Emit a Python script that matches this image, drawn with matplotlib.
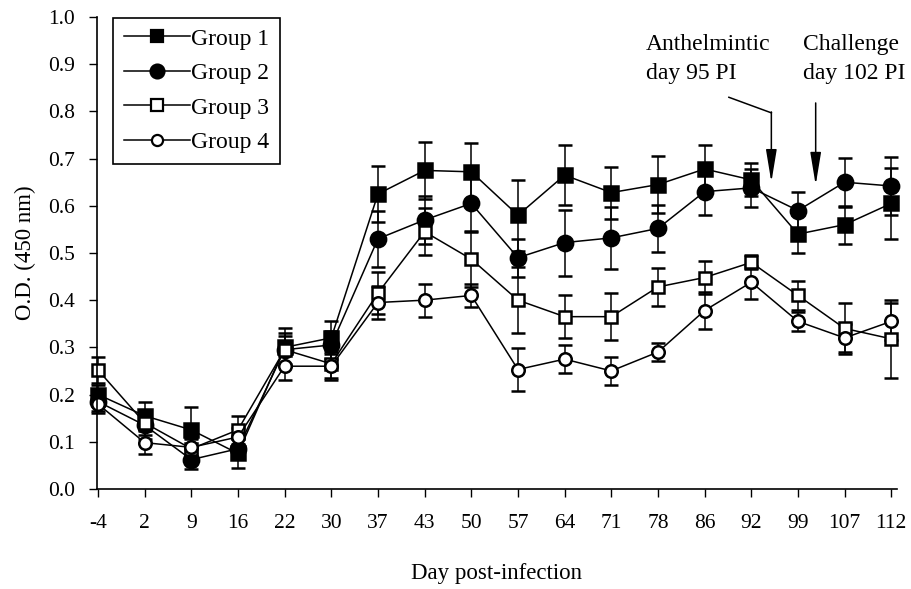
import matplotlib
matplotlib.use('Agg')
import matplotlib.pyplot as plt
from matplotlib.lines import Line2D
import numpy as np

plt.rcParams['font.family'] = ['Liberation Serif', 'DejaVu Serif']

days = ['-4', '2', '9', '16', '22', '30', '37', '43', '50', '57', '64', '71',
        '78', '86', '92', '99', '107', '112']

g1 = [0.200, 0.155, 0.125, 0.075, 0.300, 0.320, 0.625, 0.675, 0.672, 0.580,
      0.665, 0.628, 0.645, 0.678, 0.655, 0.540, 0.560, 0.605]
g1_err = [0.020, 0.030, 0.048, 0.030, 0.040, 0.035, 0.060, 0.060, 0.062, 0.075,
          0.063, 0.055, 0.060, 0.050, 0.035, 0.040, 0.040, 0.075]

g2 = [0.185, 0.135, 0.062, 0.085, 0.295, 0.305, 0.530, 0.570, 0.605, 0.490,
      0.522, 0.532, 0.552, 0.630, 0.638, 0.590, 0.650, 0.642]
g2_err = [0.020, 0.030, 0.020, 0.020, 0.030, 0.030, 0.060, 0.050, 0.060, 0.040,
          0.070, 0.065, 0.050, 0.050, 0.040, 0.040, 0.052, 0.062]

g3 = [0.252, 0.140, 0.085, 0.125, 0.295, 0.265, 0.415, 0.545, 0.487, 0.400,
      0.365, 0.365, 0.428, 0.448, 0.480, 0.410, 0.340, 0.318]
g3_err = [0.028, 0.025, 0.020, 0.030, 0.035, 0.030, 0.045, 0.050, 0.060, 0.070,
          0.045, 0.050, 0.040, 0.035, 0.015, 0.030, 0.055, 0.083]

g4 = [0.180, 0.098, 0.088, 0.110, 0.260, 0.260, 0.395, 0.400, 0.410, 0.253,
      0.275, 0.250, 0.290, 0.378, 0.438, 0.355, 0.320, 0.355]
g4_err = [0.020, 0.025, 0.020, 0.020, 0.030, 0.030, 0.035, 0.035, 0.025, 0.045,
          0.030, 0.030, 0.020, 0.040, 0.035, 0.020, 0.030, 0.040]

x = np.arange(len(days))

fig = plt.figure(figsize=(9.11, 5.89), dpi=100)
ax = fig.add_axes([0.1065, 0.170, 0.878, 0.801])

series = [
    (g1, g1_err, 's', 'black', 'Group 1', 10),
    (g2, g2_err, 'o', 'black', 'Group 2', 11),
    (g3, g3_err, 's', 'white', 'Group 3', 9),
    (g4, g4_err, 'o', 'white', 'Group 4', 9),
]
handles = []
for vals, err, mk, face, lab, ms in series:
    line, caps, bars = ax.errorbar(x, vals, yerr=err, fmt='-' + mk,
                                   color='black', mfc=face, mec='black',
                                   mew=1.8, ms=ms, lw=1.1, elinewidth=1.1,
                                   capsize=5, capthick=1.4)
    for art in [line, *caps, *bars]:
        art.set_clip_on(False)
    handles.append(Line2D([], [], color='black', marker=mk, mfc=face,
                          mec='black', mew=1.6, ms=ms - 1, lw=1.1, label=lab))

ax.set_xlim(-0.02, 17.12)
ax.set_ylim(0, 1.0)
ax.set_xticks(x)
ax.set_xticklabels(days)
ax.set_yticks(np.arange(0, 1.01, 0.1))
ax.set_yticklabels(['%.1f' % v for v in np.arange(0, 1.01, 0.1)])
ax.tick_params(labelsize=15.5, direction='out', length=6, width=1)
ax.tick_params(axis='x', pad=12)
ax.tick_params(axis='y', pad=10)
ax.spines['top'].set_visible(False)
ax.spines['right'].set_visible(False)
ax.spines['left'].set_linewidth(1.2)
ax.spines['bottom'].set_linewidth(1.2)

ax.set_xlabel('Day post-infection', fontsize=16.5)
ax.set_ylabel('O.D. (450 nm)', fontsize=16.5)
ax.xaxis.set_label_coords(0.5, -0.157)
ax.yaxis.set_label_coords(-0.076, 0.5)

leg = ax.legend(handles=handles, loc='upper left', bbox_to_anchor=(0.02, 0.999),
                fontsize=17, frameon=True, fancybox=False, edgecolor='black',
                framealpha=1, handlelength=2.8, handletextpad=0.05,
                borderpad=0.45, labelspacing=0.55, borderaxespad=0)
leg.get_frame().set_linewidth(1.2)

# Anthelmintic and challenge arrows
ax.text(11.74, 0.911, 'Anthelmintic\nday 95 PI', fontsize=17, ha='left',
        va='center', linespacing=1.5)
ax.text(15.11, 0.911, 'Challenge\nday 102 PI', fontsize=17, ha='left',
        va='center', linespacing=1.5)
ax.plot([13.52, 14.43], [0.83, 0.797], color='black', lw=1.1)
ax.annotate('', xy=(14.43, 0.65), xytext=(14.43, 0.799),
            arrowprops=dict(arrowstyle='-|>,head_length=2.0,head_width=0.33',
                            color='black', lw=1.1, shrinkA=0, shrinkB=0))
ax.annotate('', xy=(15.38, 0.644), xytext=(15.38, 0.818),
            arrowprops=dict(arrowstyle='-|>,head_length=2.0,head_width=0.33',
                            color='black', lw=1.1, shrinkA=0, shrinkB=0))

fig.savefig('out.png', dpi=100)
